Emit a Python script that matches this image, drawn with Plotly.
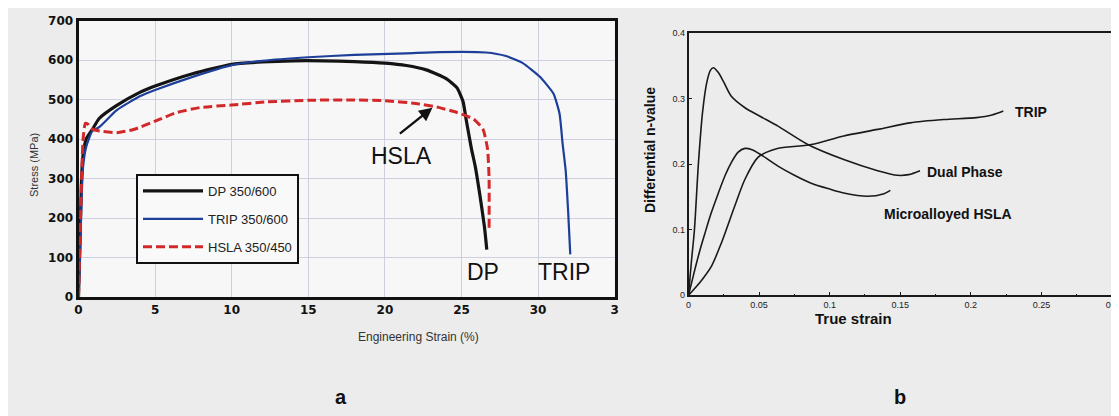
import plotly.graph_objects as go

# ---------- panel a : engineering stress-strain ----------
dp_strain = [0, 0.1, 0.2, 0.3, 0.5, 0.9, 1.35, 2.5, 4, 5, 7.5, 10, 12, 14, 16, 18, 20, 21.4,
             22.7, 24.0, 24.7, 25.1, 25.3, 25.65, 25.9, 26.2, 26.5, 26.65]
dp_stress = [0, 150, 300, 360, 400, 424, 452, 485, 518, 534, 566, 589, 595, 598, 598, 596, 592, 586,
             575, 553, 530, 495, 450, 375, 330, 258, 177, 120]

trip_strain = [0, 0.1, 0.2, 0.3, 0.5, 0.9, 1.35, 2.5, 4, 5, 7.5, 10, 12, 15, 18, 21.4, 23.6, 26.6,
               27.9, 29.0, 30.1, 31.0, 31.4, 31.6, 31.8, 31.96, 32.1]
trip_stress = [0, 100, 250, 330, 380, 420, 430, 473, 508, 524, 558, 587, 598, 607, 613, 617, 620, 619,
               610, 592, 558, 515, 464, 388, 320, 217, 108]

hsla_strain = [0, 0.1, 0.2, 0.3, 0.45, 0.6, 0.9, 1.4, 2.5, 3.6, 5, 6.4, 8, 10, 12.3, 15, 18, 20, 22,
               23.5, 24.7, 25.8, 26.4, 26.7, 26.8, 26.8]
hsla_stress = [0, 150, 300, 400, 440, 438, 425, 420, 416, 424, 445, 467, 480, 486, 494, 498, 499, 497, 490,
               480, 467, 450, 425, 375, 300, 167]

# ---------- panel b : differential n-value ----------
dpn_strain = [0, 0.002, 0.0042, 0.007, 0.010, 0.013, 0.0155, 0.0176, 0.021, 0.025, 0.0305, 0.040,
              0.0516, 0.0634, 0.0845, 0.110, 0.134, 0.148, 0.156, 0.164]
dpn_value = [0, 0.05, 0.10, 0.20, 0.28, 0.325, 0.343, 0.347, 0.34, 0.325, 0.303, 0.286,
             0.272, 0.258, 0.230, 0.207, 0.190, 0.183, 0.184, 0.190]

hslan_strain = [0, 0.004, 0.008, 0.0117, 0.016, 0.021, 0.026, 0.0305, 0.035, 0.040, 0.045, 0.0516,
                0.0634, 0.075, 0.0869, 0.100, 0.110, 0.1268, 0.1385, 0.143]
hslan_value = [0, 0.035, 0.068, 0.095, 0.125, 0.155, 0.183, 0.203, 0.218, 0.224, 0.222, 0.214,
               0.197, 0.183, 0.171, 0.162, 0.156, 0.151, 0.155, 0.160]

tripn_strain = [0, 0.005, 0.010, 0.0164, 0.0235, 0.0329, 0.040, 0.049, 0.055, 0.063, 0.0869, 0.110,
                0.134, 0.157, 0.181, 0.204, 0.215, 0.223]
tripn_value = [0, 0.012, 0.025, 0.045, 0.081, 0.137, 0.177, 0.210, 0.218, 0.224, 0.230, 0.243,
               0.253, 0.263, 0.268, 0.271, 0.275, 0.281]

a_xticks = [0, 5, 10, 15, 20, 25, 30, 35]
a_xticktext = ["0", "5", "10", "15", "20", "25", "30", "3"]
a_yticks = [0, 100, 200, 300, 400, 500, 600, 700]
b_xticks = [0, 0.05, 0.1, 0.15, 0.2, 0.25, 0.3]
b_xticktext = ["0", "0.05", "0.1", "0.15", "0.2", "0.25", "0.3"]
b_yticks = [0, 0.1, 0.2, 0.3, 0.4]
b_yticktext = ["0", "0.1", "0.2", "0.3", "0.4"]

W, H = 1119, 416
PAPER = "#ececec"
NARROW = "Liberation Sans Narrow, Arial Narrow, Liberation Sans, Arial"
HELV = "Liberation Sans, Arial, Helvetica"

def fx(px):
    return px / W

def fy(py):
    return 1 - py / H

fig = go.Figure()

fig.add_trace(go.Scatter(x=dp_strain, y=dp_stress, name="DP 350/600", mode="lines",
                         line=dict(color="#141414", width=3.2, shape="spline", smoothing=0.5),
                         xaxis="x", yaxis="y", legendgroup="a"))
fig.add_trace(go.Scatter(x=trip_strain, y=trip_stress, name="TRIP 350/600", mode="lines",
                         line=dict(color="#1d3f99", width=2.2, shape="spline", smoothing=0.5),
                         xaxis="x", yaxis="y", legendgroup="b"))
fig.add_trace(go.Scatter(x=hsla_strain, y=hsla_stress, name="HSLA 350/450", mode="lines",
                         line=dict(color="#d3282a", width=3, dash="9px,4px", shape="spline", smoothing=0.5),
                         xaxis="x", yaxis="y", legendgroup="c"))

for xs, ys in [(dpn_strain, dpn_value), (hslan_strain, hslan_value), (tripn_strain, tripn_value)]:
    fig.add_trace(go.Scatter(x=xs, y=ys, mode="lines", showlegend=False,
                             line=dict(color="#1a1a1a", width=1.6, shape="spline", smoothing=0.8),
                             xaxis="x2", yaxis="y2"))

fig.update_layout(
    width=W, height=H,
    margin=dict(l=0, r=0, t=0, b=0, pad=0, autoexpand=False),
    paper_bgcolor=PAPER, plot_bgcolor=PAPER,
    showlegend=True,
    legend=dict(x=fx(128), y=fy(166), xanchor="left", yanchor="top",
                bgcolor="#f9f9f9", bordercolor="#111111", borderwidth=2,
                font=dict(family=NARROW, size=13, color="#222222"),
                itemwidth=60, tracegroupgap=8, entrywidth=170),
    xaxis=dict(domain=[fx(70.5), fx(606.7)], range=[0, 35], tickvals=a_xticks, ticktext=a_xticktext,
               showgrid=True, gridcolor="#cfcfe0", gridwidth=1, zeroline=False,
               showline=True, linecolor="#111111", linewidth=3, mirror=True, ticks="",
               tickfont=dict(family="DejaVu Sans", size=12, color="#111111", weight="bold"),
               anchor="y", automargin=False),
    yaxis=dict(domain=[fy(289), fy(12.5)], range=[0, 700], tickvals=a_yticks,
               showgrid=True, gridcolor="#cfcfe0", gridwidth=1, zeroline=False,
               showline=True, linecolor="#111111", linewidth=3, mirror=True, ticks="",
               tickfont=dict(family="DejaVu Sans", size=12, color="#111111", weight="bold"),
               anchor="x", automargin=False),
    xaxis2=dict(domain=[fx(680.5), fx(1104)], range=[0, 0.3], tickvals=b_xticks, ticktext=b_xticktext,
                showgrid=False, zeroline=False, showline=True, linecolor="#1a1a1a", linewidth=1.6,
                mirror=True, ticks="inside", ticklen=4, tickcolor="#1a1a1a",
                minor=dict(dtick=0.025, ticks="inside", ticklen=2, tickcolor="#1a1a1a", showgrid=False),
                tickfont=dict(family=HELV, size=9, color="#222222"), anchor="y2", automargin=False),
    yaxis2=dict(domain=[fy(287.3), fy(25)], range=[0, 0.4], tickvals=b_yticks, ticktext=b_yticktext,
                showgrid=False, zeroline=False, showline=True, linecolor="#1a1a1a", linewidth=1.6,
                mirror=True, ticks="inside", ticklen=4, tickcolor="#1a1a1a",
                tickfont=dict(family=HELV, size=9, color="#222222"), anchor="x2", automargin=False),
)

# lighter plotting area for panel a
fig.add_shape(type="rect", xref="x domain", yref="y domain", x0=0, x1=1, y0=0, y1=1,
              fillcolor="#f7f7f8", line=dict(width=0), layer="below")

ann = []
# panel a texts
ann.append(dict(text="Stress (MPa)", x=fx(18), y=fy(157), xref="paper", yref="paper", textangle=-90,
                showarrow=False, font=dict(family=NARROW, size=11, color="#333333")))
ann.append(dict(text="Engineering Strain (%)", x=fx(348), y=fy(338), xref="paper", yref="paper",
                showarrow=False, font=dict(family=NARROW, size=12, color="#333333")))
ann.append(dict(text="HSLA", x=21.1, y=357, xref="x", yref="y", showarrow=False,
                font=dict(family=HELV, size=23, color="#111111")))
ann.append(dict(text="DP", x=26.4, y=64, xref="x", yref="y", showarrow=False,
                font=dict(family=HELV, size=23, color="#111111")))
ann.append(dict(text="TRIP", x=31.7, y=64, xref="x", yref="y", showarrow=False,
                font=dict(family=HELV, size=23, color="#111111")))
ann.append(dict(text="", x=23.1, y=479, xref="x", yref="y", ax=-34, ay=27, showarrow=True,
                arrowhead=2, arrowsize=1.1, arrowwidth=2.4, arrowcolor="#111111"))
ann.append(dict(text="<b>a</b>", x=fx(325), y=fy(402), xref="paper", yref="paper", showarrow=False,
                font=dict(family=HELV, size=20, color="#111111")))
# panel b texts
ann.append(dict(text="<b>Differential n-value</b>", x=fx(642), y=fy(142), xref="paper", yref="paper",
                textangle=-90, showarrow=False, font=dict(family=HELV, size=14, color="#111111")))
ann.append(dict(text="<b>True strain</b>", x=fx(886), y=fy(321), xref="paper", yref="paper",
                showarrow=False, font=dict(family=HELV, size=15, color="#111111")))
ann.append(dict(text="<b>TRIP</b>", x=0.2297, y=0.279, xref="x2", yref="y2", xanchor="left",
                showarrow=False, font=dict(family=HELV, size=14, color="#111111")))
ann.append(dict(text="<b>Dual Phase</b>", x=0.1672, y=0.188, xref="x2", yref="y2", xanchor="left",
                showarrow=False, font=dict(family=HELV, size=14, color="#111111")))
ann.append(dict(text="<b>Microalloyed HSLA</b>", x=0.137, y=0.124, xref="x2", yref="y2", xanchor="left",
                showarrow=False, font=dict(family=HELV, size=14, color="#111111")))
ann.append(dict(text="<b>b</b>", x=fx(900), y=fy(402), xref="paper", yref="paper", showarrow=False,
                font=dict(family=HELV, size=20, color="#111111")))
fig.update_layout(annotations=ann)

fig.write_html("out.html")
